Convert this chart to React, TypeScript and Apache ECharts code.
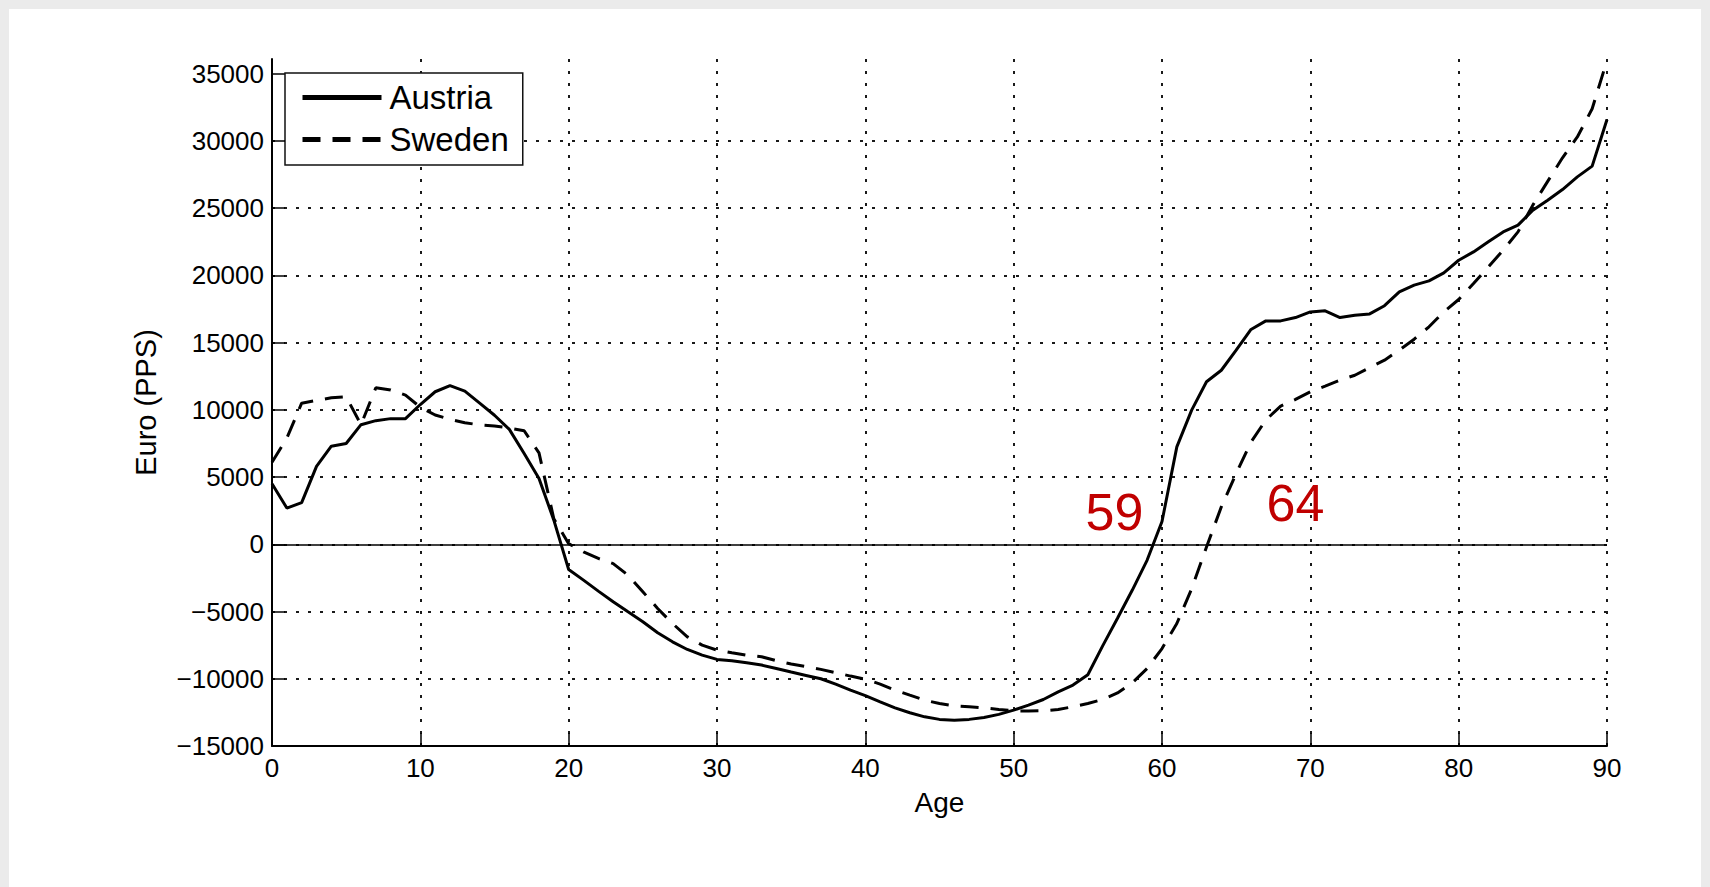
import React, { useEffect, useRef } from "react";
import * as echarts from "echarts";

const ages: number[] = Array.from({ length: 91 }, (_, i) => i);

const austria: number[] = [
  4500, 2700, 3100, 5800, 7300, 7500, 8900, 9200, 9350, 9350,
  10400, 11350, 11800, 11400, 10500, 9600, 8550, 6750, 4900, 1800,
  -1870, -2660, -3480, -4270, -5020, -5760, -6580, -7250, -7820, -8240,
  -8560, -8660, -8810, -8980, -9230, -9500, -9750, -10000, -10400, -10850,
  -11250, -11710, -12160, -12530, -12830, -13020, -13080, -13020, -12880, -12650,
  -12330, -11960, -11540, -10970, -10470, -9700, -7550, -5500, -3400, -1170,
  1700, 7250, 9980, 12090, 12950, 14440, 15980, 16620, 16620, 16870,
  17290, 17370, 16870, 17040, 17140, 17750, 18780, 19280, 19600, 20190,
  21130, 21750, 22500, 23240, 23740, 24850, 25600, 26390, 27330, 28130,
  31600,
];

const sweden: number[] = [
  6100, 7900, 10500, 10700, 10900, 10980, 8900, 11650, 11480, 11100,
  10200, 9620, 9300, 9050, 8880, 8800, 8650, 8450, 6800, 1900,
  50, -560, -1050, -1430, -2290, -3530, -4770, -5890, -6880, -7500,
  -7870, -8070, -8240, -8360, -8650, -8900, -9100, -9300, -9550, -9800,
  -10030, -10400, -10840, -11220, -11590, -11840, -12010, -12080, -12160, -12280,
  -12380, -12400, -12380, -12280, -12080, -11840, -11540, -11050, -10300, -9230,
  -7750, -5890, -3300, -200, 2790, 5270, 7600, 9250, 10280, 10780,
  11350, 11770, 12210, 12580, 13150, 13700, 14450, 15260, 16180, 17290,
  18210, 19400, 20640, 21880, 23240, 25230, 27000, 28750, 30300, 32400,
  36000,
];

const seriesNames = ["Austria", "Sweden"];
const yTicks: number[] = [-15000, -10000, -5000, 0, 5000, 10000, 15000, 20000, 25000, 30000, 35000];
const xTicks: number[] = [0, 10, 20, 30, 40, 50, 60, 70, 80, 90];

const annotationLabels = ["59", "64"];
const annotationAges = [56.8, 69.0];
const annotationValues = [2400, 3100];

const FONT = "'Liberation Sans', Arial, Helvetica, sans-serif";

function fmt(v: number): string {
  if (v % 5000 !== 0) return "";
  return v < 0 ? "\u2212" + String(-v) : String(v);
}

export default function App() {
  const ref = useRef<HTMLDivElement>(null);

  useEffect(() => {
    if (!ref.current) return;
    const chart = echarts.init(ref.current, null, { renderer: "svg" });
    const dotted = { color: "#1a1a1a", width: 2, type: [3, 9] as number[] };
    chart.setOption({
      animation: false,
      backgroundColor: "transparent",
      textStyle: { fontFamily: FONT, color: "#000" },
      grid: { left: 272, right: 103, top: 59, bottom: 141, containLabel: false },
      legend: {
        data: seriesNames,
        orient: "vertical",
        left: 285,
        top: 73,
        padding: [8, 14, 9, 15],
        itemGap: 9,
        itemWidth: 79,
        itemHeight: 14,
        backgroundColor: "#fff",
        borderColor: "#111",
        borderWidth: 1.5,
        borderRadius: 0,
        selectedMode: false,
        lineStyle: { width: 5 },
        itemStyle: { color: "rgba(0,0,0,0)", borderWidth: 0, opacity: 0 },
        textStyle: { fontFamily: FONT, fontSize: 33, color: "#000", padding: [0, 0, 0, 3] },
      },
      xAxis: {
        type: "value",
        min: 0,
        max: 90,
        interval: 10,
        name: "Age",
        nameLocation: "middle",
        nameGap: 42,
        nameTextStyle: { fontFamily: FONT, fontSize: 28, color: "#000" },
        axisLine: { show: true, onZero: false, lineStyle: { color: "#000", width: 2 } },
        axisTick: { show: true, inside: true, length: 13, lineStyle: { color: "#000", width: 1.5 }, customValues: xTicks },
        axisLabel: { fontFamily: FONT, fontSize: 26, color: "#000", margin: 9, customValues: xTicks },
        splitLine: { show: true, showMinLine: false, showMaxLine: true, lineStyle: dotted },
      },
      yAxis: {
        type: "value",
        min: -15000,
        max: 36100,
        interval: 5000,
        name: "Euro (PPS)",
        nameLocation: "middle",
        nameGap: 112,
        nameTextStyle: { fontFamily: FONT, fontSize: 29, color: "#000" },
        axisLine: { show: true, onZero: false, lineStyle: { color: "#000", width: 2 } },
        axisTick: { show: true, inside: true, length: 13, lineStyle: { color: "#000", width: 1.5 }, customValues: yTicks },
        axisLabel: { fontFamily: FONT, fontSize: 26, color: "#000", margin: 8, customValues: yTicks, formatter: fmt },
        splitLine: { show: true, showMinLine: false, showMaxLine: false, lineStyle: dotted },
      },
      series: [
        {
          name: seriesNames[0],
          type: "line",
          data: austria.map((v, i) => [ages[i], v]),
          symbol: "none",
          lineStyle: { color: "#000", width: 3, type: "solid" },
          itemStyle: { color: "#000" },
          z: 5,
          markLine: {
            silent: true,
            symbol: "none",
            label: { show: false },
            lineStyle: { color: "#000", width: 1.5, type: "solid" },
            data: [{ yAxis: 0 }],
            z: 3,
          },
          markPoint: {
            silent: true,
            symbol: "circle",
            symbolSize: 1,
            itemStyle: { color: "rgba(0,0,0,0)" },
            label: {
              show: true,
              position: "inside",
              fontFamily: FONT,
              fontSize: 52,
              color: "#c00000",
              formatter: (p: any) => p.name,
            },
            data: annotationLabels.map((t, i) => ({
              name: t,
              coord: [annotationAges[i], annotationValues[i]],
            })),
          },
        },
        {
          name: seriesNames[1],
          type: "line",
          data: sweden.map((v, i) => [ages[i], v]),
          symbol: "none",
          lineStyle: { color: "#000", width: 3, type: [18, 12] },
          itemStyle: { color: "#000" },
          z: 5,
        },
      ],
    });
    return () => chart.dispose();
  }, []);

  return (
    <div style={{ position: "fixed", left: 0, top: 0, width: 1710, height: 887, background: "#ebebeb", overflow: "hidden" }}>
      <div style={{ position: "absolute", left: 9, top: 9, width: 1692, height: 878, background: "#fff" }} />
      <div ref={ref} style={{ position: "absolute", left: 0, top: 0, width: 1710, height: 887 }} />
    </div>
  );
}
